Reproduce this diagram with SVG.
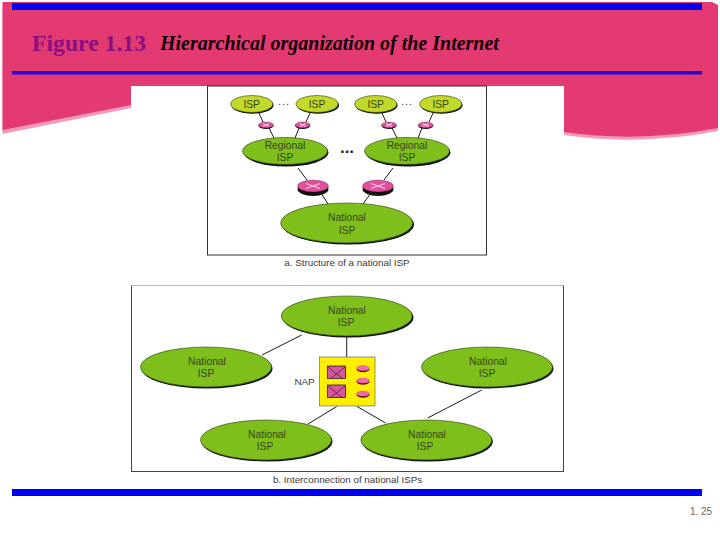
<svg xmlns="http://www.w3.org/2000/svg" width="720" height="540" viewBox="0 0 720 540">
<style>
text{font-family:"Liberation Sans",Arial,sans-serif;fill:#3a3a3a;text-anchor:middle}
.g{fill:#7fbf1c;stroke:#2a3a10;stroke-width:.6}
.s{fill:#111}
.i{fill:#c3d92a;stroke:#2a3a10;stroke-width:.6}
.t{font-size:10.300px;fill:#35451a}
.c{font-size:9.800px}
.l{stroke:#1a1a1a;stroke-width:1;fill:none}
.r{fill:#e0509c;stroke:#301020;stroke-width:.3}
.x{stroke:#f6c8e0;stroke-width:1.2;fill:none}
.b{fill:#0000f0}
.f{fill:#fff;stroke:#333;stroke-width:1}
</style>
<rect width="720" height="540" fill="#fff"/>
<g id="background">
<path d="M2.500 134V5H712L718 8V131Q640 146 564 135V108H131L2.500 134Z" fill="#f598bb"/>
<path d="M2.500 130V2H712L718 5V128Q640 143 564 132V86H131V105L2.500 130Z" fill="#e33a72"/>
<rect class="b" x="12" y="3" width="690" height="7"/>
<rect x="12" y="71" width="690" height="3.500" fill="#2a00d8"/>
<rect class="b" x="12" y="489" width="690" height="7"/>
</g>
<text x="32" y="51" style="font-family:'Liberation Serif',serif;font-size:23.700px;font-weight:bold;fill:#8a1080;text-anchor:start">Figure 1.13</text>
<text x="160" y="50" style="font-family:'Liberation Serif',serif;font-size:20px;font-weight:bold;font-style:italic;fill:#100008;text-anchor:start">Hierarchical organization of the Internet</text>
<rect x="131" y="86" width="433" height="199" fill="#fff"/>
<rect class="f" x="207.500" y="86" width="279" height="169"/>
<rect x="131.500" y="285.500" width="432" height="186" fill="#fff" stroke="#444" stroke-width="1"/>
<path d="M131.500 285.500H563.500" stroke="#bbb" stroke-width="1"/>
<g id="connectors">
<path class="l" d="M259 113L263 122M269 128L274 138M310 113L306 122M299 128L295 138M382 113L386 122M392 128L397 138M433 113L429 122M422 128L418 138M298 168L307 180M321 193L328 204M393 168L384 180M371 193L363 204"/>
<path class="l" d="M301.700 335L262 355M346.700 337V357M336.700 406.500L308 424M357 406.500L385.700 423M481.700 390L427.700 418"/>
</g>
<g id="isp1"><ellipse class="s" cx="252.500" cy="105.200" rx="21" ry="8.500"/><ellipse class="i" cx="251.700" cy="104" rx="21" ry="8.500"/><text class="t" x="251.700" y="107.500">ISP</text></g>
<g id="isp2"><ellipse class="s" cx="318" cy="105.200" rx="21" ry="8.500"/><ellipse class="i" cx="317" cy="104" rx="21" ry="8.500"/><text class="t" x="317" y="107.500">ISP</text></g>
<g id="isp3"><ellipse class="s" cx="376.500" cy="105.200" rx="21" ry="8.500"/><ellipse class="i" cx="375.700" cy="104" rx="21" ry="8.500"/><text class="t" x="375.700" y="107.500">ISP</text></g>
<g id="isp4"><ellipse class="s" cx="441.500" cy="105.200" rx="21" ry="8.500"/><ellipse class="i" cx="440.700" cy="104" rx="21" ry="8.500"/><text class="t" x="440.700" y="107.500">ISP</text></g>
<text class="c" x="284" y="105" style="font-size:11px;letter-spacing:1px">...</text>
<text class="c" x="407" y="105" style="font-size:11px;letter-spacing:1px">...</text>
<text x="347" y="153" style="font-size:17px;font-weight:bold;fill:#222">...</text>
<g id="router-s1"><ellipse class="s" cx="266" cy="125.800" rx="7.500" ry="3.200"/><ellipse class="r" cx="266" cy="125" rx="7.500" ry="3"/><path class="x" d="M263 123.500L269 126.500M263 126.500L269 123.500"/></g>
<g id="router-s2"><ellipse class="s" cx="302.700" cy="125.800" rx="7.500" ry="3.200"/><ellipse class="r" cx="302.700" cy="125" rx="7.500" ry="3"/><path class="x" d="M299.700 123.500L305.700 126.500M299.700 126.500L305.700 123.500"/></g>
<g id="router-s3"><ellipse class="s" cx="389" cy="125.800" rx="7.500" ry="3.200"/><ellipse class="r" cx="389" cy="125" rx="7.500" ry="3"/><path class="x" d="M386 123.500L392 126.500M386 126.500L392 123.500"/></g>
<g id="router-s4"><ellipse class="s" cx="425.700" cy="125.800" rx="7.500" ry="3.200"/><ellipse class="r" cx="425.700" cy="125" rx="7.500" ry="3"/><path class="x" d="M422.700 123.500L428.700 126.500M422.700 126.500L428.700 123.500"/></g>
<g id="regional1"><ellipse class="s" cx="286" cy="152.500" rx="42.500" ry="14"/><ellipse class="g" cx="285" cy="151" rx="42.500" ry="13.500"/><text class="t" x="285" y="149">Regional</text><text class="t" x="285" y="161">ISP</text></g>
<g id="regional2"><ellipse class="s" cx="408" cy="152.500" rx="42.500" ry="14"/><ellipse class="g" cx="407" cy="151" rx="42.500" ry="13.500"/><text class="t" x="407" y="149">Regional</text><text class="t" x="407" y="161">ISP</text></g>
<g id="router-b1"><ellipse class="s" cx="313" cy="189" rx="15.500" ry="7"/><ellipse class="r" cx="313" cy="186" rx="15.500" ry="6"/><path class="x" d="M306 183.500L320 188.500M306 188.500L320 183.500"/></g>
<g id="router-b2"><ellipse class="s" cx="378" cy="189" rx="15.500" ry="7"/><ellipse class="r" cx="378" cy="186" rx="15.500" ry="6"/><path class="x" d="M371 183.500L385 188.500M371 188.500L385 183.500"/></g>
<g id="national-a"><ellipse class="s" cx="348" cy="224.500" rx="66" ry="20"/><ellipse class="g" cx="346.700" cy="223" rx="66" ry="20"/><text class="t" x="347" y="221">National</text><text class="t" x="347" y="233.500">ISP</text></g>
<text class="c" x="347" y="266">a. Structure of a national ISP</text>
<g id="national-top"><ellipse class="s" cx="348" cy="317.500" rx="65.500" ry="20"/><ellipse class="g" cx="346.700" cy="316" rx="65.500" ry="20"/><text class="t" x="347" y="314">National</text><text class="t" x="346" y="326">ISP</text></g>
<g id="national-left"><ellipse class="s" cx="207" cy="368.500" rx="65.500" ry="20"/><ellipse class="g" cx="206" cy="367" rx="65.500" ry="20"/><text class="t" x="207" y="364.500">National</text><text class="t" x="206" y="376.500">ISP</text></g>
<g id="national-right"><ellipse class="s" cx="488" cy="368.500" rx="65.500" ry="20"/><ellipse class="g" cx="487" cy="367" rx="65.500" ry="20"/><text class="t" x="488" y="364.500">National</text><text class="t" x="487" y="376.500">ISP</text></g>
<g id="national-bl"><ellipse class="s" cx="267" cy="441.500" rx="65.500" ry="20"/><ellipse class="g" cx="266" cy="440" rx="65.500" ry="20"/><text class="t" x="267" y="437.500">National</text><text class="t" x="265" y="449.500">ISP</text></g>
<g id="national-br"><ellipse class="s" cx="427.300" cy="441.500" rx="65.500" ry="20"/><ellipse class="g" cx="426.300" cy="440" rx="65.500" ry="20"/><text class="t" x="427" y="437.500">National</text><text class="t" x="425" y="449.500">ISP</text></g>
<g id="nap">
<rect x="319.500" y="357" width="55.500" height="49" fill="#ffee00" stroke="#555" stroke-width=".6"/>
<g fill="#d9559f" stroke="#222" stroke-width=".8"><rect x="327.500" y="366" width="18" height="12.500"/><rect x="327.500" y="385" width="18" height="12.500"/></g>
<path d="M328 367L336.500 374L345 367M336.500 374L331 378M336.500 374L342 378M328 386L336.500 393L345 386M336.500 393L331 397M336.500 393L342 397" stroke="#222" stroke-width=".7" fill="none"/>
<g id="nap-routers"><ellipse cx="363" cy="369" rx="6.500" ry="3.200" fill="#5a1030"/><ellipse cx="363" cy="381.500" rx="6.500" ry="3.200" fill="#5a1030"/><ellipse cx="363" cy="394.500" rx="6.500" ry="3.200" fill="#5a1030"/><ellipse cx="363" cy="368" rx="6.500" ry="2.800" fill="#ee6aa8"/><ellipse cx="363" cy="380.500" rx="6.500" ry="2.800" fill="#ee6aa8"/><ellipse cx="363" cy="393.500" rx="6.500" ry="2.800" fill="#ee6aa8"/></g>
</g>
<text class="c" x="304.500" y="385">NAP</text>
<text class="c" x="347.500" y="483">b. Interconnection of national ISPs</text>
<text x="701" y="515" style="font-size:10px;fill:#667">1. 25</text>
</svg>
